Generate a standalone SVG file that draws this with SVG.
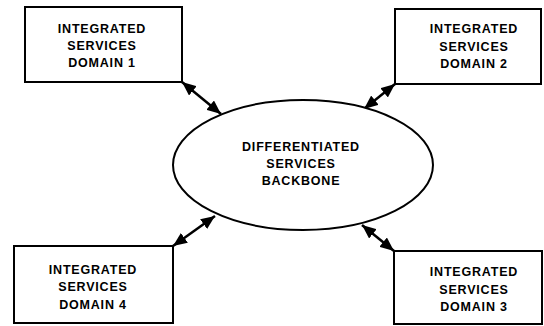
<svg xmlns="http://www.w3.org/2000/svg" width="544" height="326" viewBox="0 0 544 326">
<style>
.box{fill:#fff;stroke:#000;stroke-width:2}
.t{font-family:"Liberation Sans",Arial,sans-serif;font-weight:bold;font-size:12.5px;letter-spacing:0.8px;text-anchor:middle;fill:#000}
.c{stroke:#000;stroke-width:2.5;fill:none;marker-start:url(#ah);marker-end:url(#ah)}
</style>
<defs>
<marker id="ah" viewBox="0 0 14 12" refX="14" refY="6" markerWidth="14" markerHeight="12" markerUnits="userSpaceOnUse" orient="auto-start-reverse">
<path d="M0,0 L14,6 L0,12 Z" fill="#000"/>
</marker>
</defs>
<rect width="544" height="326" fill="#fff"/>
<g id="connectors">
<line class="c" x1="182" y1="82" x2="221" y2="114"/>
<line class="c" x1="395" y1="84" x2="364" y2="109"/>
<line class="c" x1="173" y1="246" x2="215" y2="216"/>
<line class="c" x1="394" y1="251" x2="362" y2="225"/>
</g>
<g id="backbone">
<ellipse cx="303" cy="165" rx="130" ry="65" fill="#fff" stroke="#000" stroke-width="2"/>
<text class="t" x="301" y="151">DIFFERENTIATED</text>
<text class="t" x="301" y="168">SERVICES</text>
<text class="t" x="301" y="185">BACKBONE</text>
</g>
<g id="domain1">
<rect class="box" x="25" y="7" width="157" height="75"/>
<text class="t" x="102" y="33">INTEGRATED</text>
<text class="t" x="102" y="50">SERVICES</text>
<text class="t" x="102" y="67">DOMAIN 1</text>
</g>
<g id="domain2">
<rect class="box" x="395" y="9" width="146" height="75"/>
<text class="t" x="474" y="33">INTEGRATED</text>
<text class="t" x="474" y="51">SERVICES</text>
<text class="t" x="474" y="68">DOMAIN 2</text>
</g>
<g id="domain4">
<rect class="box" x="14" y="246" width="159" height="77"/>
<text class="t" x="93" y="274">INTEGRATED</text>
<text class="t" x="93" y="291">SERVICES</text>
<text class="t" x="93" y="309">DOMAIN 4</text>
</g>
<g id="domain3">
<rect class="box" x="394" y="251" width="148" height="73"/>
<text class="t" x="474" y="276">INTEGRATED</text>
<text class="t" x="474" y="294">SERVICES</text>
<text class="t" x="474" y="311">DOMAIN 3</text>
</g>
</svg>
